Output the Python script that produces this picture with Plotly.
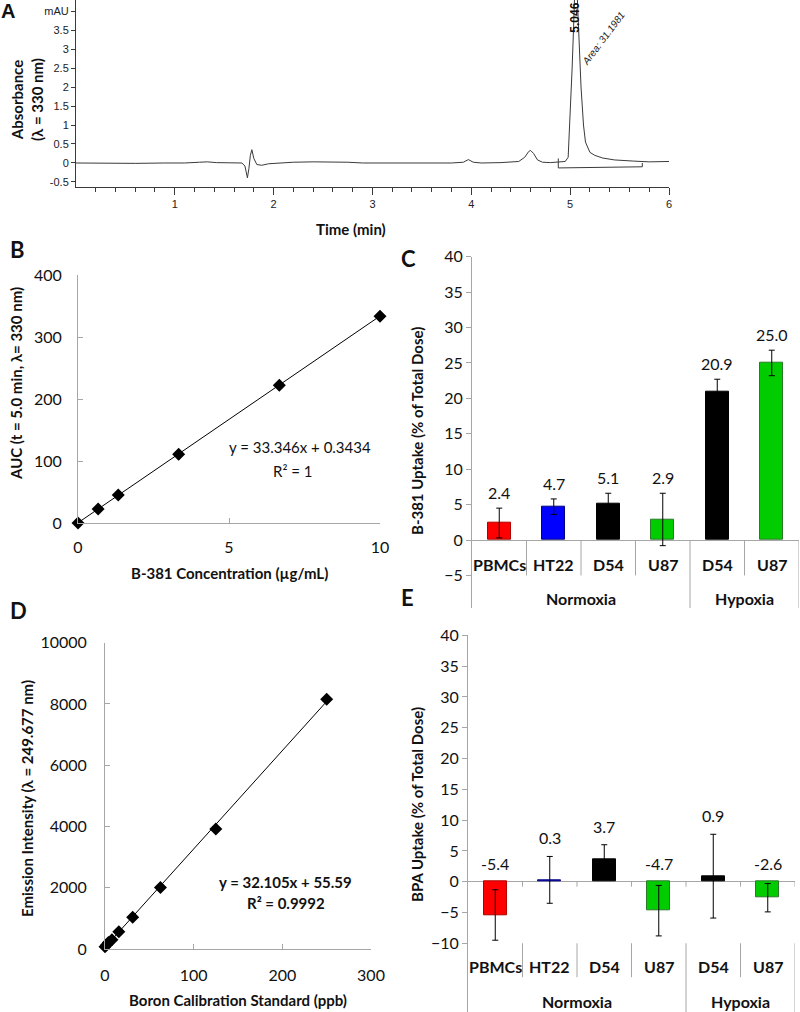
import plotly.graph_objects as go

W, H = 800, 1012


def px(x):
    return x / W


def py(y):
    return 1 - y / H


# ---- A: chromatogram ----
chrom_time = [0.00, 0.30, 0.60, 0.90, 1.10, 1.25, 1.33, 1.42, 1.55, 1.68, 1.71, 1.735,
              1.75, 1.765, 1.78, 1.80, 1.83, 1.88, 1.95, 2.05, 2.20, 2.40, 2.60, 2.75,
              2.90, 3.20, 3.50, 3.80, 3.92, 3.97, 4.02, 4.10, 4.30, 4.48, 4.54, 4.58,
              4.60, 4.63, 4.67, 4.72, 4.80, 4.88, 4.95, 4.98, 5.00, 5.02, 5.035, 5.05,
              5.07, 5.085, 5.11, 5.135, 5.155, 5.20, 5.25, 5.33, 5.45, 5.64, 5.80, 6.00]
chrom_mau = [0.00, -0.01, -0.01, 0.00, 0.00, 0.02, 0.03, 0.01, 0.00, 0.00, -0.08, -0.39,
             -0.15, 0.20, 0.35, 0.12, -0.04, -0.06, -0.02, 0.00, 0.02, 0.03, 0.03, 0.02,
             0.00, 0.00, 0.00, 0.00, 0.02, 0.09, 0.02, 0.00, 0.01, 0.04, 0.15, 0.30,
             0.33, 0.25, 0.08, 0.02, 0.01, 0.02, 0.04, 0.15, 1.20, 2.50, 3.60, 4.80,
             4.50, 3.40, 2.00, 1.00, 0.55, 0.28, 0.20, 0.13, 0.08, 0.05, 0.03, 0.04]
base_time = [4.88, 4.88, 5.73, 5.73]
base_mau = [0.12, -0.13, -0.10, 0.00]
peak_rt = 5.046
peak_area = "Area: 31.1981"
a_yticks = [-0.5, 0, 0.5, 1, 1.5, 2, 2.5, 3, 3.5, 4]
a_ytext = ["-0.5", "0", "0.5", "1", "1.5", "2", "2.5", "3", "3.5", "mAU"]

# ---- B: B-381 calibration ----
b381_conc = [0, 0.667, 1.333, 3.333, 6.667, 10]
b381_auc = [0, 22.6, 45, 111, 222, 333.5]
b_slope, b_int = 33.346, 0.3434
b_xticks = [0, 5, 10]
b_yticks = [0, 100, 200, 300, 400]

# ---- D: boron calibration ----
boron_ppb = [0, 1.95, 3.9, 7.8, 15.6, 31.25, 62.5, 125, 250]
boron_int = [70, 140, 210, 300, 560, 1040, 2010, 3920, 8150]
d_slope, d_int = 32.105, 55.59
d_xticks = [0, 100, 200, 300]
d_yticks = [0, 2000, 4000, 6000, 8000, 10000]

# ---- C / E: uptake bars ----
cells = ["PBMCs", "HT22", "D54", "U87", "D54", "U87"]
groups = ["Normoxia", "Hypoxia"]
group_size = [4, 2]
cell_colors = ["#ff0000", "#0000ff", "#000000", "#00cc00", "#000000", "#00cc00"]
cell_edges = ["#b00000", "#000080", "#000000", "#2a7a2a", "#000000", "#2a7a2a"]
c_uptake = [2.4, 4.7, 5.1, 2.9, 20.9, 25.0]
c_err = [2.1, 1.1, 1.5, 3.7, 1.8, 1.8]
e_uptake = [-5.4, 0.3, 3.7, -4.7, 0.9, -2.6]
e_err = [4.1, 3.8, 2.3, 4.1, 6.8, 2.3]
uptake_ticks = [-10, -5, 0, 5, 10, 15, 20, 25, 30, 35, 40]

NARROW = "Liberation Sans Narrow, Liberation Sans, Arial, sans-serif"
CAL = "Lato, Carlito, Calibri, sans-serif"
GRAY = "#a6a6a6"
INK = "#3a3a3a"

fig = go.Figure()

# A
fig.add_trace(go.Scatter(x=chrom_time, y=chrom_mau, mode="lines",
                         line=dict(color=INK, width=1), xaxis="x", yaxis="y"))
fig.add_trace(go.Scatter(x=base_time, y=base_mau, mode="lines",
                         line=dict(color=INK, width=1), xaxis="x", yaxis="y"))

# B
bx = [min(b381_conc), max(b381_conc)]
fig.add_trace(go.Scatter(x=bx, y=[b_slope * v + b_int for v in bx], mode="lines",
                         line=dict(color="black", width=1), xaxis="x2", yaxis="y2"))
fig.add_trace(go.Scatter(x=b381_conc, y=b381_auc, mode="markers",
                         marker=dict(symbol="diamond", size=10, color="black"),
                         xaxis="x2", yaxis="y2", cliponaxis=False))

# D
dx = [min(boron_ppb), max(boron_ppb)]
fig.add_trace(go.Scatter(x=dx, y=[d_slope * v + d_int for v in dx], mode="lines",
                         line=dict(color="black", width=1), xaxis="x4", yaxis="y4"))
fig.add_trace(go.Scatter(x=boron_ppb, y=boron_int, mode="markers",
                         marker=dict(symbol="diamond", size=10, color="black"),
                         xaxis="x4", yaxis="y4", cliponaxis=False))

# C and E
pos = list(range(len(cells)))
for vals, errs, xa, ya in [(c_uptake, c_err, "x3", "y3"), (e_uptake, e_err, "x5", "y5")]:
    fig.add_trace(go.Bar(x=pos, y=vals, width=0.42,
                         marker=dict(color=cell_colors, line=dict(color=cell_edges, width=1)),
                         error_y=dict(type="data", array=errs, color="black", thickness=1, width=3),
                         xaxis=xa, yaxis=ya))

tf_cal = dict(family=CAL, size=16, color="#111")
scatter_axis = dict(showline=True, linecolor=GRAY, linewidth=1, ticks="inside", ticklen=5,
                    tickcolor=GRAY, showgrid=False, zeroline=False, tickfont=tf_cal,
                    automargin=False, tickmode="array")
bar_y = dict(showline=True, linecolor=GRAY, linewidth=1, ticks="outside", ticklen=5,
             tickcolor=GRAY, showgrid=False, zeroline=True, zerolinecolor=GRAY,
             zerolinewidth=1, tickfont=tf_cal, automargin=False, tickmode="array")
bar_x = dict(range=[-0.5, len(cells) - 0.5], showticklabels=False, showline=False,
             ticks="", showgrid=False, zeroline=False, automargin=False)

fig.update_layout(
    width=W, height=H, margin=dict(l=0, r=0, t=0, b=0, pad=0, autoexpand=False),
    showlegend=False, paper_bgcolor="white", plot_bgcolor="white", bargap=0,
    # range starts a hair above 0 so the unlabeled origin tick is skipped
    xaxis=dict(domain=[px(76), px(669)], range=[0.001, 6], anchor="y", tickmode="linear",
               tick0=0, dtick=1, ticks="outside", ticklen=7, tickcolor=INK,
               showline=True, linecolor=INK, linewidth=1, showgrid=False, zeroline=False,
               automargin=False, tickfont=dict(family=NARROW, size=11, color="#222"),
               minor=dict(tick0=0, dtick=0.2, ticks="outside", ticklen=4, tickcolor=INK,
                          showgrid=False)),
    yaxis=dict(domain=[py(187), 1], range=[-0.632, 4.29], anchor="x",
               tickmode="array", tickvals=a_yticks, ticktext=a_ytext, ticks="outside",
               ticklen=4, tickcolor=INK, showline=True, linecolor=INK, linewidth=1,
               showgrid=False, zeroline=False, automargin=False,
               tickfont=dict(family=NARROW, size=11, color="#222")),
    xaxis2=dict(domain=[px(78), px(380)], range=[0, 10], anchor="y2",
                tickvals=b_xticks, ticklabelstandoff=10, **scatter_axis),
    yaxis2=dict(domain=[py(523), py(275)], range=[0, 400], anchor="x2",
                tickvals=b_yticks, ticklabelstandoff=12, **scatter_axis),
    xaxis4=dict(domain=[px(105), px(371)], range=[0, 300], anchor="y4",
                tickvals=d_xticks, ticklabelstandoff=12, **scatter_axis),
    yaxis4=dict(domain=[py(949), py(642.7)], range=[0, 10000], anchor="x4",
                tickvals=d_yticks, ticktext=[str(v) for v in d_yticks],
                ticklabelstandoff=14, **scatter_axis),
    xaxis3=dict(domain=[px(472), px(799)], anchor="y3", **bar_x),
    yaxis3=dict(domain=[py(608), py(256.7)], range=[-9.6, 40], anchor="x3",
                tickvals=uptake_ticks[1:], **bar_y),
    xaxis5=dict(domain=[px(468), px(795)], anchor="y5", **bar_x),
    yaxis5=dict(domain=[0, py(635.3)], range=[-21.15, 40], anchor="x5",
                tickvals=uptake_ticks, **bar_y),
)

# category separators for C and E
bounds = [i + 0.5 for i in range(len(cells))]
group_ends = []
acc = 0
for g in group_size:
    acc += g
    group_ends.append(acc - 0.5)
shapes = []
for b in bounds:
    major = b in group_ends
    shapes.append(dict(type="line", xref="x3", yref="y3", x0=b, x1=b, y0=0,
                       y1=-9.6 if major else -5, line=dict(color=GRAY, width=1)))
    shapes.append(dict(type="line", xref="x5", yref="y5", x0=b, x1=b, y0=0, y1=-0.8,
                       line=dict(color=GRAY, width=1)))
    shapes.append(dict(type="line", xref="x5", yref="y5", x0=b, x1=b, y0=-10,
                       y1=-21.15 if major else -15.5, line=dict(color=GRAY, width=1)))
fig.update_layout(shapes=shapes)

ann = []


def label(text, x, y, size=15, bold=True, angle=0, family=CAL, xref="paper", yref="paper", **kw):
    t = f"<b>{text}</b>" if bold else text
    ann.append(dict(text=t, x=x, y=y, xref=xref, yref=yref, showarrow=False,
                    xanchor="center", yanchor="middle", textangle=angle,
                    font=dict(family=family, size=size, color="#111"), **kw))


# panel letters
label("A", px(8), py(11), size=20, family="Liberation Sans, Arial")
label("B", px(17), py(249), size=22)
label("C", px(408), py(259), size=22)
label("D", px(18), py(610), size=22)
label("E", px(407), py(597), size=22)

# axis titles
label("Absorbance<br>(λ = 330 nm)", px(27), py(100), angle=-90)
label("Time (min)", px(351), py(229))
label("AUC (t = 5.0 min, λ= 330 nm)", px(16), py(384), angle=-90)
label("B-381 Concentration (µg/mL)", px(229), py(573))
label("B-381 Uptake (% of Total Dose)", px(417), py(431), angle=-90)
label("Emission Intensity (λ = 249.677 nm)", px(27), py(799), angle=-90)
label("Boron Calibration Standard (ppb)", px(238), py(1000))
label("BPA Uptake (% of Total Dose)", px(417), py(805), angle=-90)

# fit equations
label(f"y = {b_slope}x + {b_int}", px(300), py(447), bold=False)
label("R² = 1", px(293), py(471), bold=False)
label(f"y = {d_slope}x + {d_int}", px(285), py(882))
label("R² = 0.9992", px(286), py(903))

# chromatogram peak labels
label(f"{peak_rt:.3f}", peak_rt, py(18), size=12, family=NARROW, angle=-90, xref="x")
ann.append(dict(text=f"<i>{peak_area}</i>", x=px(603), y=py(38), xref="paper", yref="paper",
                xanchor="center", yanchor="middle", showarrow=False, textangle=-53,
                font=dict(family=NARROW, size=10, color="#222")))

# bar data labels and categories
for vals, errs, xa, ya, shift, ycat, ygrp in [
        (c_uptake, c_err, "x3", "y3", 4, 564, 598),
        (e_uptake, e_err, "x5", "y5", 7, 966.7, 1001.7)]:
    for i, (v, e) in enumerate(zip(vals, errs)):
        ann.append(dict(text=f"{v:.1f}", x=i, y=max(v + e, 0), xref=xa, yref=ya,
                        xanchor="center", yanchor="bottom", yshift=shift, showarrow=False,
                        font=dict(family=CAL, size=16, color="#111")))
    for i, c in enumerate(cells):
        label(c, i, py(ycat), size=16, xref=xa)
    start = 0
    for g, n in zip(groups, group_size):
        label(g, start + (n - 1) / 2, py(ygrp), size=16, xref=xa)
        start += n

fig.update_layout(annotations=ann)

# the page keeps the browser's default body margin otherwise
fig.write_html("out.html", config={"displayModeBar": False},
               post_script="document.body.style.margin='0';")
